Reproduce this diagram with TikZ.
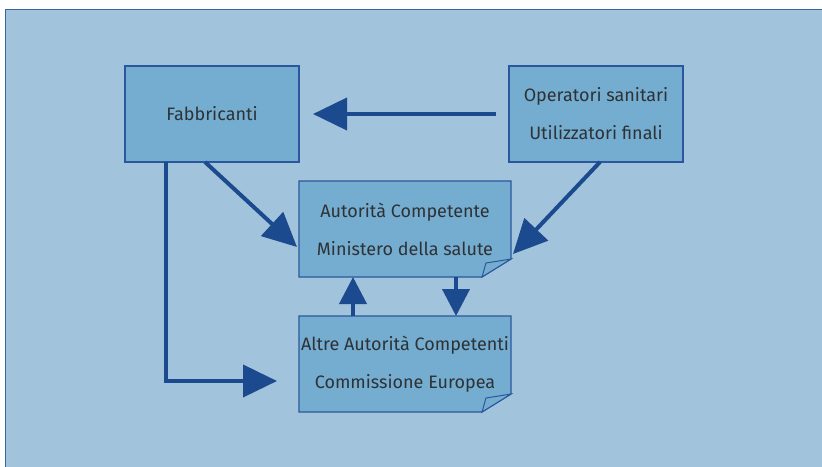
\documentclass[tikz,border=0pt]{standalone}
\usepackage{fontspec}
\setmainfont{Fira Sans}
\usetikzlibrary{arrows.meta,positioning,calc,backgrounds}
\definecolor{panelbg}{HTML}{A2C3DC}
\definecolor{panelline}{HTML}{3A64A8}
\definecolor{boxfill}{HTML}{74ADCF}
\definecolor{boxline}{HTML}{2B579E}
\definecolor{arrowblue}{HTML}{1B4A8E}
\definecolor{textgrey}{HTML}{2E3236}

% sheet with folded corner, drawn round a named node
\newcommand{\docshape}[1]{%
  \draw[draw=boxline, line width=1.2pt, fill=boxfill]
    (#1.north west) -- (#1.north east)
    -- ($(#1.south east)+(0pt,18pt)$) -- ($(#1.south east)+(-29pt,0pt)$)
    -- (#1.south west) -- cycle;
  \draw[draw=boxline, line width=1pt, fill=boxfill]
    ($(#1.south east)+(-29pt,0pt)$) -- ($(#1.south east)+(0pt,18pt)$)
    .. controls ($(#1.south east)+(-12pt,16pt)$) .. ($(#1.south east)+(-25pt,14pt)$)
    -- cycle;
}

\begin{document}
\begin{tikzpicture}[
  x=1pt, y=-1pt,
  box/.style={rectangle, draw=boxline, fill=boxfill, line width=1.2pt,
              align=center, font=\fontsize{18}{38}\selectfont, text=textgrey,
              minimum width=174pt, minimum height=96pt,
              inner sep=0pt, outer sep=0pt},
  doc/.style={box, draw=none, fill=none, minimum width=212pt},
  arr/.style={draw=arrowblue, line width=4pt,
              -{Triangle[length=34pt,width=32pt]}},
  arrs/.style={arr, -{Triangle[length=27pt,width=27pt]}}
]
\useasboundingbox (0,0) rectangle (822,466);
\node[box] (fab) at (212,114) {Fabbricanti};
\node[box, right=210pt of fab] (op) {Operatori sanitari\\Utilizzatori finali};
\node[doc, below right=19pt and 0pt of fab] (aut)
  {Autorità Competente\\Ministero della salute};
\node[doc, below=39pt of aut] (alt)
  {Altre Autorità Competenti\\Commissione Europea};
\begin{pgfonlayer}{background}
\draw[draw=panelline, line width=1pt, fill=panelbg] (5,9) rectangle (826,470);
\docshape{aut}
\docshape{alt}
\end{pgfonlayer}
\draw[arr, shorten <=13pt, shorten >=14pt] (op.west) -- (fab.east);
\draw[arr] ($(fab.south)+(-7pt,0pt)$) -- ($(aut.west)+(-2pt,-18pt)$);
\draw[arr] ($(op.south)+(4pt,0pt)$) -- ($(aut.east)+(2pt,-25pt)$);
\draw[arrs] ($(aut.south)+(51pt,0pt)$) -- ($(alt.north)+(51pt,0pt)$);
\draw[arrs] ($(alt.north)+(-52pt,0pt)$) -- ($(aut.south)+(-52pt,0pt)$);
\draw[arr] ($(fab.south west)+(41pt,0pt)$) |- ($(alt.west)+(-22pt,-17pt)$);
\end{tikzpicture}
\end{document}
